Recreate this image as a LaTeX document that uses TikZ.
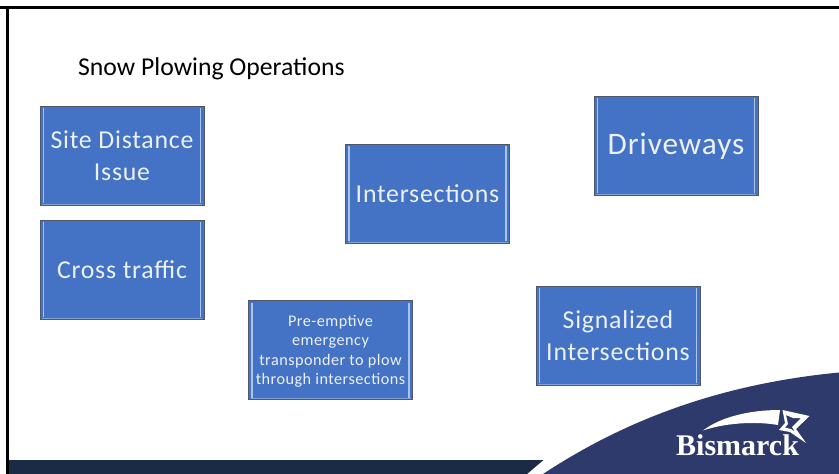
\documentclass[tikz,border=0pt]{standalone}
\usepackage{fontspec}
\setmainfont{Carlito}
\newfontfamily\spacedfont[LetterSpace=3]{Carlito}
\newfontfamily\logofont{Liberation Serif}
\usepackage{xcolor}
\usetikzlibrary{positioning}
\definecolor{boxblue}{HTML}{4472C4}
\definecolor{boxedge}{HTML}{505868}
\definecolor{boxlight}{HTML}{A9C4EC}
\definecolor{barnavy}{HTML}{1B2A45}
\definecolor{swooshnavy}{HTML}{2E3A6B}
\tikzset{
  topicbox/.style={draw=boxedge, line width=1pt, fill=boxblue, text=white!90!boxblue,
    minimum width=164pt, minimum height=99pt, align=center, inner sep=2pt,
    font=\spacedfont\fontsize{25.8}{32}\selectfont,
    path picture={
      \draw[boxlight, line width=1.4pt]
        ([shift={(3.5pt,2pt)}]path picture bounding box.south west) -- ([shift={(3.5pt,-2pt)}]path picture bounding box.north west)
        ([shift={(-3.5pt,2pt)}]path picture bounding box.south east) -- ([shift={(-3.5pt,-2pt)}]path picture bounding box.north east);
      \draw[boxlight!60!boxblue, line width=1pt]
        ([shift={(2pt,1pt)}]path picture bounding box.south west) -- ([shift={(-2pt,1pt)}]path picture bounding box.south east);
    }},
}
\begin{document}
\begin{tikzpicture}[x=1pt, y=-1pt]
\useasboundingbox (0,0) rectangle (839,474);
% frame and bottom band
\fill[black] (0,6) rectangle (839,8.5);
\fill[black] (6,6) rectangle (9,474);
\fill[barnavy] (9,460) -- (543.5,460) -- (527,474) -- (9,474) -- cycle;
\fill[swooshnavy] (543,474) .. controls (625,420) and (720,384) .. (839,372.5) -- (839,474) -- cycle;
% title
\node[anchor=base west, inner sep=0pt, font=\fontsize{25.7}{30}\selectfont] (title) at (78,75) {Snow Plowing Operations};
% boxes
\node[topicbox] (site) at (122,155.5) {Site Distance\\Issue};
\node[topicbox, below=14pt of site] (cross) {Cross traffic};
\node[topicbox] (inter) at (427.5,193.5) {Intersections};
\node[topicbox, font=\spacedfont\fontsize{31.3}{38}\selectfont] (drive) at (676,145.5) {\rule{0pt}{24pt}Driveways};
\node[topicbox, font=\spacedfont\fontsize{16.2}{19.5}\selectfont] (preempt) at (330.5,350) {\rule{0pt}{14pt}Pre-emptive\\emergency\\transponder to plow\\through intersections};
\node[topicbox] (signal) at (618,335.5) {Signalized\\Intersections};
% logo
\node[anchor=base west, inner sep=0pt, text=white, font=\logofont\bfseries\fontsize{30}{30}\selectfont] (logo) at (676,455) {Bismarck};
\fill[white] (703,430.5) .. controls (722,416) and (752,410) .. (780,410) -- (778,425) .. controls (755,421) and (725,423) .. (703,430.5) -- cycle;
\fill[white, even odd rule] (782.5,410) -- (809.5,416) -- (796,429) -- (806,443) -- (790,432) -- (779,430) -- (785,423) -- cycle
  (786,415) -- (788,424) -- (785,427.5) -- (791,429) -- (795,432) -- (792,427) -- (801,418) -- (793,418) -- cycle;
\end{tikzpicture}
\end{document}
